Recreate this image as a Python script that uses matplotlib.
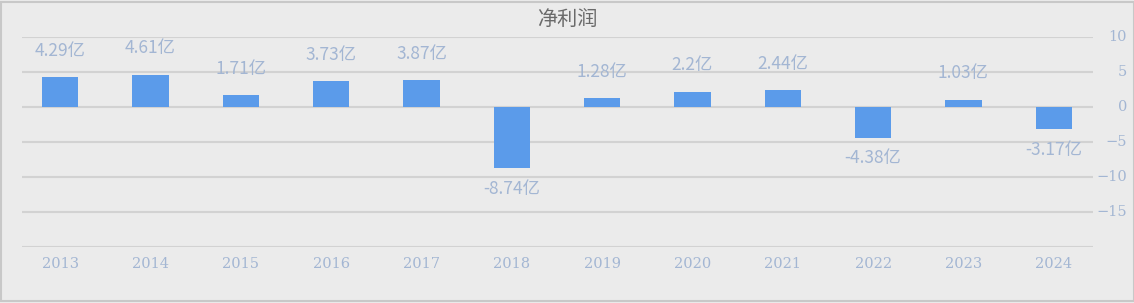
import matplotlib.pyplot as plt
from matplotlib.patches import Rectangle

years = ['2013', '2014', '2015', '2016', '2017', '2018',
         '2019', '2020', '2021', '2022', '2023', '2024']
profit = [4.29, 4.61, 1.71, 3.73, 3.87, -8.74, 1.28, 2.2, 2.44, -4.38, 1.03, -3.17]
labels = ['4.29亿', '4.61亿', '1.71亿', '3.73亿', '3.87亿', '-8.74亿',
          '1.28亿', '2.2亿', '2.44亿', '-4.38亿', '1.03亿', '-3.17亿']
yticks = [10, 5, 0, -5, -10, -15, -20]
ytick_labels = ['10', '5', '0', '−5', '−10', '−15', '']

bg = '#ebebeb'
txt_color = '#a3b6d3'
bar_color = '#5b9bea'
cjk = ['Noto Sans CJK SC', 'DejaVu Sans']

fig = plt.figure(figsize=(11.34, 3.03), dpi=100, facecolor=bg)
# 类目区域 15~1099 px
ax = fig.add_axes([15 / 1134, 1 - 247 / 303, 1084 / 1134, 210 / 303])
ax.set_facecolor('none')

x = list(range(len(years)))
ax.bar(x, profit, width=0.4, color=bar_color, zorder=3)

for i, (v, lab) in enumerate(zip(profit, labels)):
    off = 19 if v >= 0 else -15
    ax.annotate(lab, (i, v), xytext=(0, off), textcoords='offset points',
                ha='center', va='center', color=txt_color, fontsize=12.5,
                family=cjk)

ax.set_xlim(-0.5, len(years) - 0.5)
ax.set_ylim(-20, 10)

# 网格线（比类目区域稍短）
x0 = -0.5 + 7 / 1084 * 12
x1 = -0.5 + (1093 - 15) / 1084 * 12
ax.hlines(yticks, x0, x1, colors='#d2d2d2', linewidth=1.5, zorder=0)

ax.set_xticks(x)
ax.set_xticklabels(years, family='DejaVu Serif', fontsize=10.5, color=txt_color)
ax.tick_params(axis='x', length=0, pad=7)
ax.set_yticks([])

# 右侧 y 轴标签，右对齐
ytrans = ax.get_yaxis_transform()
for v, lab in zip(yticks, ytick_labels):
    ax.text((1127 - 15) / 1084, v, lab, transform=ytrans, ha='right', va='center',
            family='DejaVu Serif', fontsize=10.5, color=txt_color, clip_on=False)

for s in ax.spines.values():
    s.set_visible(False)

fig.text(567 / 1134, 1 - 20 / 303, '净利润', ha='center', va='center',
         fontsize=14.5, color='#6a6a6a', family=cjk)

# 外框
fig.patches.append(Rectangle((0.5 / 1134, 2 / 303), 1133 / 1134, 299 / 303,
                             transform=fig.transFigure, fill=False,
                             edgecolor='#c8c8c8', linewidth=1.5))

fig.savefig('out.png', dpi=100, facecolor=bg)
